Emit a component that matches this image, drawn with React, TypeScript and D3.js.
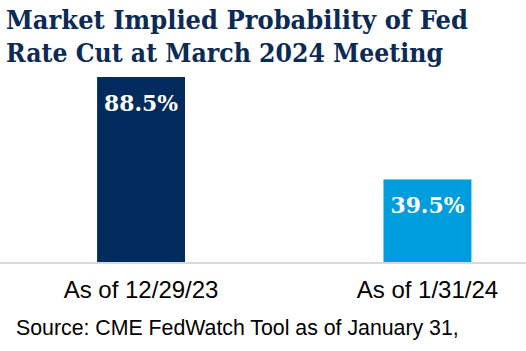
import { useEffect, useRef } from "react";
import * as d3 from "d3";

const titleLines = ["Market Implied Probability of Fed", "Rate Cut at March 2024 Meeting"];
const categories = ["As of 12/29/23", "As of 1/31/24"];
const values = [88.5, 39.5];
const barColors = ["#002B5C", "#009DDC"];
const sourceText = "Source: CME FedWatch Tool as of January 31,";

export default function App() {
  const ref = useRef<HTMLDivElement>(null);

  useEffect(() => {
    if (!ref.current) return;
    const container = ref.current;
    container.innerHTML = "";

    const width = 526;
    const height = 351;
    const baseline = 262;

    const svg = d3
      .select(container)
      .append("svg")
      .attr("width", width)
      .attr("height", height)
      .style("display", "block");

    svg.append("rect").attr("width", width).attr("height", height).attr("fill", "#fff");

    // -----------------------------
    // Title
    // -----------------------------
    const titleFont = "'DejaVu Serif', Georgia, serif";
    const titleWidths = [462, 437];
    titleLines.forEach((line, i) => {
      svg
        .append("text")
        .attr("x", 6)
        .attr("y", 29 + i * 33)
        .attr("textLength", titleWidths[i])
        .attr("lengthAdjust", "spacingAndGlyphs")
        .style("font-family", titleFont)
        .style("font-weight", "bold")
        .style("font-size", "26px")
        .style("fill", "#0B2A55")
        .text(line);
    });

    // -----------------------------
    // Scales
    // -----------------------------
    const x = d3
      .scaleBand<string>()
      .domain(categories)
      .range([0, 568.5])
      .paddingInner(0.693)
      .paddingOuter(0.339);

    const y = d3.scaleLinear().domain([0, 100]).range([baseline, 53]);

    // -----------------------------
    // Bars
    // -----------------------------
    categories.forEach((cat, i) => {
      const v = values[i];
      const bx = x(cat)!;
      svg
        .append("rect")
        .attr("x", bx)
        .attr("y", y(v))
        .attr("width", x.bandwidth())
        .attr("height", baseline - y(v))
        .attr("fill", barColors[i]);

      svg
        .append("text")
        .attr("x", bx + x.bandwidth() / 2)
        .attr("y", y(v) + 34)
        .attr("text-anchor", "middle")
        .attr("textLength", 74)
        .attr("lengthAdjust", "spacingAndGlyphs")
        .style("font-family", titleFont)
        .style("font-weight", "bold")
        .style("font-size", "23px")
        .style("fill", "#fff")
        .text(`${v.toFixed(1)}%`);

      svg
        .append("text")
        .attr("x", bx + x.bandwidth() / 2)
        .attr("y", 298)
        .attr("text-anchor", "middle")
        .style("font-family", "'Liberation Sans', Arial, sans-serif")
        .style("font-size", "24px")
        .style("fill", "#000")
        .text(cat);
    });

    // axis line
    svg
      .append("line")
      .attr("x1", 0)
      .attr("x2", width)
      .attr("y1", baseline + 1)
      .attr("y2", baseline + 1)
      .attr("stroke", "#D9D9D9")
      .attr("stroke-width", 2);

    // source
    svg
      .append("text")
      .attr("x", 16)
      .attr("y", 335)
      .style("font-family", "'Liberation Sans', Arial, sans-serif")
      .style("font-size", "21.3px")
      .style("fill", "#000")
      .text(sourceText);
  }, []);

  return <div ref={ref} style={{ position: "absolute", left: 0, top: 0 }} />;
}
